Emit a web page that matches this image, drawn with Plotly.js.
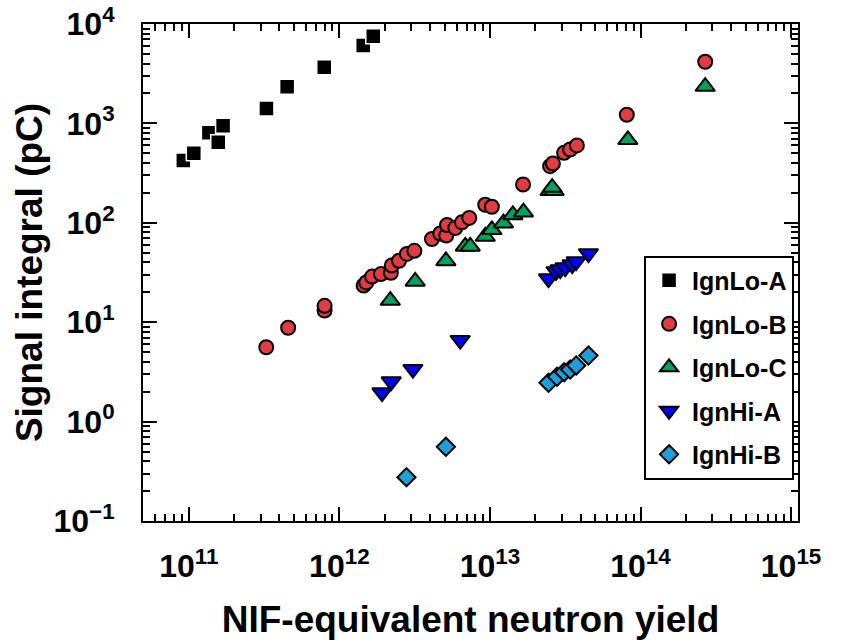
<!DOCTYPE html>
<html>
<head>
<meta charset="utf-8">
<script src="https://cdn.plot.ly/plotly-3.0.1.min.js"></script>
<style>html,body{margin:0;padding:0;background:#fff;}#chart{width:850px;height:641px;}</style>
</head>
<body>
<div id="chart"></div>
<script>
// IgnLo-A (squares)
const ignLoA_x = [9.2e10, 1.08e11, 1.36e11, 1.57e11, 1.69e11, 3.28e11, 4.5e11, 7.94e11, 1.44e12, 1.68e12];
const ignLoA_y = [424, 501, 803, 647, 946, 1413, 2335, 3675, 6080, 7540];
// IgnLo-B (circles)
const ignLoB_x = [3.27e11, 4.57e11, 7.98e11, 7.98e11, 1.45e12, 1.51e12, 1.65e12, 1.89e12, 2.20e12, 2.23e12,
                  2.49e12, 2.81e12, 3.15e12, 4.12e12, 4.68e12, 5.13e12, 5.19e12, 5.89e12, 6.52e12, 7.29e12,
                  9.31e12, 1.03e13, 1.66e13, 2.51e13, 2.62e13, 3.11e13, 3.41e13, 3.78e13, 8.11e13, 2.69e14];
const ignLoB_y = [5.6, 8.8, 13.1, 14.6, 23.4, 25.1, 28.8, 30.5, 31.4, 37.2,
                  41.5, 48.6, 52.2, 68.7, 78.0, 74.5, 95.0, 88.7, 101, 112,
                  152, 145, 243, 371, 395, 506, 546, 600, 1222, 4170];
// IgnLo-C (up triangles)
const ignLoC_x = [2.18e12, 3.19e12, 5.10e12, 6.86e12, 7.40e12, 9.31e12, 1.03e13, 1.23e13, 1.42e13, 1.67e13,
                  2.51e13, 2.67e13, 2.59e13, 8.24e13, 2.69e14];
const ignLoC_y = [16.5, 25.7, 41.3, 57.8, 57.8, 72.8, 85.1, 99, 120, 128,
                  210, 210, 226, 684, 2350];
// IgnHi-A (down triangles)
const ignHiA_x = [1.92e12, 2.21e12, 3.08e12, 6.35e12, 2.45e13, 2.75e13, 2.93e13, 3.16e13, 3.52e13, 3.74e13, 4.51e13];
const ignHiA_y = [1.96, 2.53, 3.37, 6.59, 27.5, 32.4, 33.9, 35.5, 38.0, 40.8, 49.1];
// IgnHi-B (diamonds)
const ignHiB_x = [2.79e12, 5.10e12, 2.45e13, 2.79e13, 3.11e13, 3.41e13, 3.74e13, 4.51e13];
const ignHiB_y = [0.276, 0.557, 2.46, 2.82, 3.14, 3.34, 3.67, 4.62];

const xTickVals = [1e11, 1e12, 1e13, 1e14, 1e15];
const xTickText = ['10<sup>11</sup>', '10<sup>12</sup>', '10<sup>13</sup>', '10<sup>14</sup>', '10<sup>15</sup>'];
const yTickVals = [0.1, 1, 10, 100, 1000, 10000];
const yTickText = ['10<sup>\u22121</sup>', '10<sup>0</sup>', '10<sup>1</sup>', '10<sup>2</sup>', '10<sup>3</sup>', '10<sup>4</sup>'];

function minorTicks(lo, hi) {
  const out = [];
  for (let e = lo; e < hi; e++) for (let m = 2; m <= 9; m++) out.push(m * Math.pow(10, e));
  return out;
}

const FONT = 'Liberation Sans, Arial, sans-serif';

const traces = [
  {name: 'IgnLo-A', x: ignLoA_x, y: ignLoA_y, legendgroup: 'a',
   marker: {symbol: 'square', size: 15, color: '#000000', line: {color: '#ffffff', width: 1.5}}},
  {name: 'IgnLo-B', x: ignLoB_x, y: ignLoB_y, legendgroup: 'b',
   marker: {symbol: 'circle', size: 14, color: '#e03c42', line: {color: '#000000', width: 2}}},
  {name: 'IgnLo-C', x: ignLoC_x, y: ignLoC_y, legendgroup: 'c',
   marker: {symbol: 'triangle-up', size: 17, color: '#00a25e', line: {color: '#000000', width: 2}}},
  {name: 'IgnHi-A', x: ignHiA_x, y: ignHiA_y, legendgroup: 'd',
   marker: {symbol: 'triangle-down', size: 17, color: '#0000ff', line: {color: '#000000', width: 2}}},
  {name: 'IgnHi-B', x: ignHiB_x, y: ignHiB_y, legendgroup: 'e',
   marker: {symbol: 'diamond', size: 14, color: '#1e9fd8', line: {color: '#000000', width: 2}}}
].map(t => Object.assign({type: 'scatter', mode: 'markers', cliponaxis: false}, t));

const axisCommon = {
  type: 'log', showgrid: false, zeroline: false,
  showline: true, linecolor: '#000', linewidth: 2, mirror: 'allticks',
  ticks: 'inside', ticklen: 14, tickwidth: 2, tickcolor: '#000',
  tickmode: 'array',
  tickfont: {family: FONT, size: 32, color: '#000', weight: 'bold'}
};

const layout = {
  width: 850, height: 641,
  margin: {l: 143, r: 52, t: 24, b: 120},
  paper_bgcolor: '#fff', plot_bgcolor: '#fff',
  showlegend: true,
  xaxis: Object.assign({}, axisCommon, {
    range: [10.696, 15.046],
    tickvals: xTickVals, ticktext: xTickText,
    ticklabelstandoff: 16,
    minor: {tickmode: 'array', tickvals: minorTicks(10, 15), ticks: 'inside', ticklen: 7, tickwidth: 2, tickcolor: '#000', showgrid: false},
    title: {text: 'NIF-equivalent neutron yield', standoff: 23,
            font: {family: FONT, size: 37, color: '#000', weight: 'bold'}}
  }),
  yaxis: Object.assign({}, axisCommon, {
    range: [-1, 4],
    tickvals: yTickVals, ticktext: yTickText,
    ticklabelstandoff: 20,
    minor: {tickmode: 'array', tickvals: minorTicks(-1, 4), ticks: 'inside', ticklen: 7, tickwidth: 2, tickcolor: '#000', showgrid: false},
    title: {text: 'Signal integral (pC)', standoff: 0,
            font: {family: FONT, size: 37, color: '#000', weight: 'bold'}}
  }),
  legend: {
    x: 0.765, y: 0.534, xanchor: 'left', yanchor: 'top',
    bgcolor: '#fff', bordercolor: '#000', borderwidth: 2,
    tracegroupgap: 8, traceorder: 'grouped', itemwidth: 36,
    font: {family: FONT, size: 25, color: '#000', weight: 'bold'}
  }
};

Plotly.newPlot('chart', traces, layout, {displayModeBar: false, staticPlot: true});
</script>
</body>
</html>
